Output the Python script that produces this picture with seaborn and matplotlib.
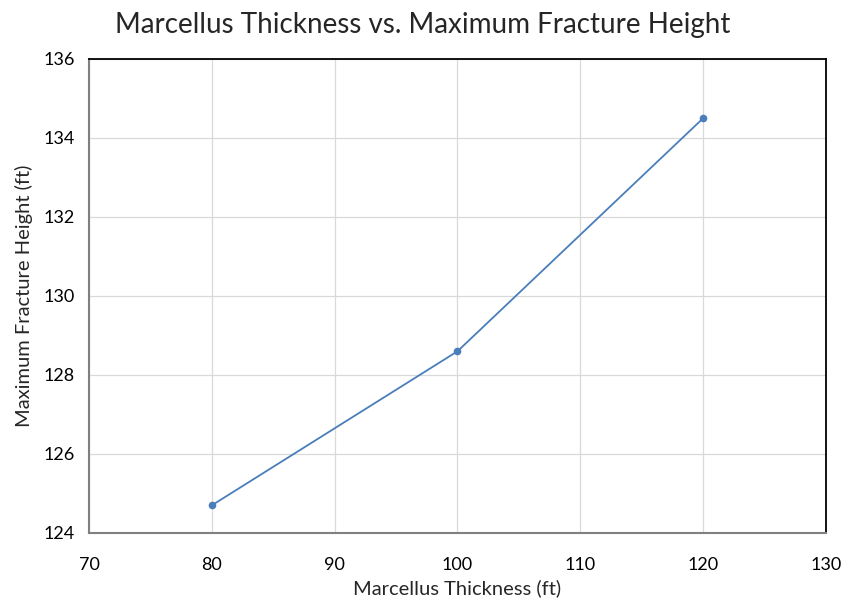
import matplotlib
matplotlib.use("Agg")
import matplotlib.pyplot as plt
import seaborn as sns
import pandas as pd

thickness_ft = [80, 100, 120]
max_frac_height_ft = [124.7, 128.6, 134.5]
x_ticks = [70, 80, 90, 100, 110, 120, 130]
y_ticks = [124, 126, 128, 130, 132, 134, 136]

df = pd.DataFrame({"thickness": thickness_ft, "height": max_frac_height_ft})

sns.set_theme(style="white")
plt.rcParams["font.family"] = ["Lato", "DejaVu Sans"]

fig = plt.figure(figsize=(8.45, 6.03), dpi=100)
ax = fig.add_axes([0.1053, 0.1161, 0.8722, 0.7861])

sns.lineplot(data=df, x="thickness", y="height", ax=ax, color="#4A7EBB",
             linewidth=1.3, marker="o", markersize=5.5, markeredgewidth=0)

ax.set_xlim(70, 130)
ax.set_ylim(124, 136)
ax.set_xticks(x_ticks)
ax.set_yticks(y_ticks)
ax.grid(True, color="#D9D9D9", linewidth=0.9)
ax.set_axisbelow(True)
ax.tick_params(axis="both", labelsize=13, length=0, colors="#000000")
ax.tick_params(axis="x", pad=17)
ax.tick_params(axis="y", pad=10)

for side in ["left", "bottom"]:
    ax.spines[side].set_color("#808080")
    ax.spines[side].set_linewidth(1.5)
for side in ["top", "right"]:
    ax.spines[side].set_color("#000000")
    ax.spines[side].set_linewidth(1.3)

ax.set_xlabel("Marcellus Thickness (ft)", fontsize=14.5, labelpad=5)
ax.set_ylabel("Maximum Fracture Height (ft)", fontsize=14.5, labelpad=8)
fig.suptitle("Marcellus Thickness vs. Maximum Fracture Height", fontsize=20,
             x=0.5, y=0.98, va="top")

fig.savefig("out.png", dpi=100, facecolor="white")
